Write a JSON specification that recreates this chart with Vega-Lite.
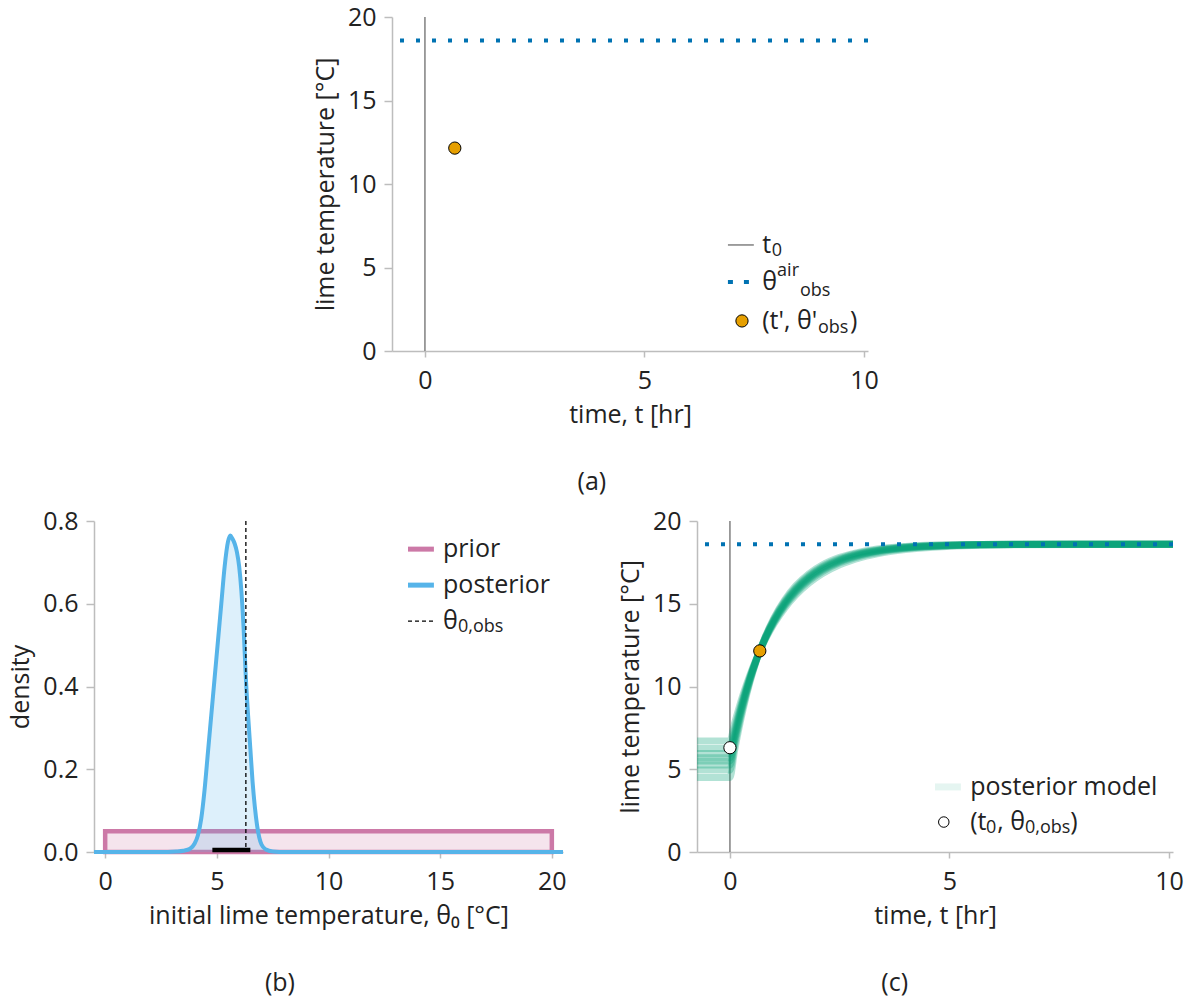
{
"$schema": "https://vega.github.io/schema/vega-lite/v6.json",
"autosize": {"type": "pad"},
"padding": {"left": 8, "top": 5, "right": 5, "bottom": 5},
"background": "white",
"config": {
  "font": "Open Sans",
  "view": {"stroke": null},
  "axis": {"grid": false, "domainColor": "#bdbdbd", "domainWidth": 1.5, "tickColor": "#bdbdbd", "tickWidth": 1.5, "labelFont": "Open Sans", "labelFontSize": 25, "labelColor": "#222222", "labelFlush": false, "titleFont": "Open Sans", "titleFontSize": 25, "titleFontWeight": "normal", "titleColor": "#222222"},
  "axisX": {"tickSize": 6, "labelPadding": 11, "titlePadding": 9},
  "axisY": {"tickSize": 8, "labelPadding": 8, "titlePadding": 9},
  "title": {"font": "Open Sans", "fontSize": 25, "fontWeight": "normal", "color": "#222222", "orient": "bottom", "anchor": "middle", "frame": "bounds", "offset": 43, "dx": -8},
  "text": {"font": "Open Sans", "fontSize": 25, "color": "#222222", "align": "left", "baseline": "middle"}
},
"datasets": {
  "t0": [{"t": 0}],
  "air": [{"theta": 18.6}],
  "obs": [{"t": 0.68, "theta": 12.15}],
  "init": [{"t": 0, "theta": 6.3}],
  "prior": [{"lo": 0, "hi": 20, "density": 0.05}],
  "interval": [{"lo": 4.8, "hi": 6.5}],
  "posterior": [
    {"x": -0.5, "density": 0}, {"x": 2.8, "density": 0}, {"x": 3.2, "density": 0.001}, {"x": 3.5, "density": 0.003},
    {"x": 3.8, "density": 0.008}, {"x": 4.0, "density": 0.02}, {"x": 4.15, "density": 0.04}, {"x": 4.3, "density": 0.08},
    {"x": 4.45, "density": 0.15}, {"x": 4.6, "density": 0.24}, {"x": 4.75, "density": 0.33}, {"x": 4.9, "density": 0.42},
    {"x": 5.05, "density": 0.51}, {"x": 5.2, "density": 0.6}, {"x": 5.35, "density": 0.69}, {"x": 5.5, "density": 0.75},
    {"x": 5.6, "density": 0.765}, {"x": 5.7, "density": 0.757}, {"x": 5.8, "density": 0.745}, {"x": 5.9, "density": 0.725},
    {"x": 6.0, "density": 0.69}, {"x": 6.1, "density": 0.63}, {"x": 6.2, "density": 0.54}, {"x": 6.3, "density": 0.42},
    {"x": 6.4, "density": 0.33}, {"x": 6.5, "density": 0.25}, {"x": 6.6, "density": 0.17}, {"x": 6.7, "density": 0.11},
    {"x": 6.8, "density": 0.065}, {"x": 6.9, "density": 0.035}, {"x": 7.0, "density": 0.018}, {"x": 7.2, "density": 0.006},
    {"x": 7.5, "density": 0.001}, {"x": 7.8, "density": 0}, {"x": 20.5, "density": 0}
  ],
  "curves": [
    {"s":1,"t":-0.75,"y":4.5},{"s":1,"t":0,"y":4.5},{"s":1,"t":0.1,"y":6.03},{"s":1,"t":0.2,"y":7.4},{"s":1,"t":0.3,"y":8.61},{"s":1,"t":0.45,"y":10.2},{"s":1,"t":0.6,"y":11.53},{"s":1,"t":0.8,"y":12.98},{"s":1,"t":1.0,"y":14.14},{"s":1,"t":1.25,"y":15.25},{"s":1,"t":1.5,"y":16.09},{"s":1,"t":1.8,"y":16.82},{"s":1,"t":2.1,"y":17.34},{"s":1,"t":2.5,"y":17.8},{"s":1,"t":3.0,"y":18.15},{"s":1,"t":3.5,"y":18.35},{"s":1,"t":4.0,"y":18.46},{"s":1,"t":5.0,"y":18.56},{"s":1,"t":6.5,"y":18.59},{"s":1,"t":10.09,"y":18.6},
    {"s":2,"t":-0.75,"y":4.95},{"s":2,"t":0,"y":4.95},{"s":2,"t":0.1,"y":6.38},{"s":2,"t":0.2,"y":7.65},{"s":2,"t":0.3,"y":8.79},{"s":2,"t":0.45,"y":10.29},{"s":2,"t":0.6,"y":11.56},{"s":2,"t":0.8,"y":12.95},{"s":2,"t":1.0,"y":14.07},{"s":2,"t":1.25,"y":15.16},{"s":2,"t":1.5,"y":15.99},{"s":2,"t":1.8,"y":16.72},{"s":2,"t":2.1,"y":17.25},{"s":2,"t":2.5,"y":17.73},{"s":2,"t":3.0,"y":18.1},{"s":2,"t":3.5,"y":18.31},{"s":2,"t":4.0,"y":18.43},{"s":2,"t":5.0,"y":18.55},{"s":2,"t":6.5,"y":18.59},{"s":2,"t":10.09,"y":18.6},
    {"s":3,"t":-0.75,"y":5.25},{"s":3,"t":0,"y":5.25},{"s":3,"t":0.1,"y":6.61},{"s":3,"t":0.2,"y":7.82},{"s":3,"t":0.3,"y":8.92},{"s":3,"t":0.45,"y":10.35},{"s":3,"t":0.6,"y":11.57},{"s":3,"t":0.8,"y":12.93},{"s":3,"t":1.0,"y":14.02},{"s":3,"t":1.25,"y":15.09},{"s":3,"t":1.5,"y":15.92},{"s":3,"t":1.8,"y":16.65},{"s":3,"t":2.1,"y":17.19},{"s":3,"t":2.5,"y":17.68},{"s":3,"t":3.0,"y":18.06},{"s":3,"t":3.5,"y":18.28},{"s":3,"t":4.0,"y":18.42},{"s":3,"t":5.0,"y":18.54},{"s":3,"t":6.5,"y":18.59},{"s":3,"t":10.09,"y":18.6},
    {"s":4,"t":-0.75,"y":5.5},{"s":4,"t":0,"y":5.5},{"s":4,"t":0.1,"y":6.8},{"s":4,"t":0.2,"y":7.96},{"s":4,"t":0.3,"y":9.02},{"s":4,"t":0.45,"y":10.4},{"s":4,"t":0.6,"y":11.59},{"s":4,"t":0.8,"y":12.91},{"s":4,"t":1.0,"y":13.98},{"s":4,"t":1.25,"y":15.04},{"s":4,"t":1.5,"y":15.86},{"s":4,"t":1.8,"y":16.59},{"s":4,"t":2.1,"y":17.13},{"s":4,"t":2.5,"y":17.63},{"s":4,"t":3.0,"y":18.02},{"s":4,"t":3.5,"y":18.26},{"s":4,"t":4.0,"y":18.4},{"s":4,"t":5.0,"y":18.53},{"s":4,"t":6.5,"y":18.59},{"s":4,"t":10.09,"y":18.6},
    {"s":5,"t":-0.75,"y":5.7},{"s":5,"t":0,"y":5.7},{"s":5,"t":0.1,"y":6.95},{"s":5,"t":0.2,"y":8.08},{"s":5,"t":0.3,"y":9.1},{"s":5,"t":0.45,"y":10.45},{"s":5,"t":0.6,"y":11.6},{"s":5,"t":0.8,"y":12.89},{"s":5,"t":1.0,"y":13.94},{"s":5,"t":1.25,"y":14.99},{"s":5,"t":1.5,"y":15.8},{"s":5,"t":1.8,"y":16.54},{"s":5,"t":2.1,"y":17.08},{"s":5,"t":2.5,"y":17.59},{"s":5,"t":3.0,"y":17.99},{"s":5,"t":3.5,"y":18.24},{"s":5,"t":4.0,"y":18.38},{"s":5,"t":5.0,"y":18.52},{"s":5,"t":6.5,"y":18.58},{"s":5,"t":10.09,"y":18.6},
    {"s":6,"t":-0.75,"y":5.95},{"s":6,"t":0,"y":5.95},{"s":6,"t":0.1,"y":7.14},{"s":6,"t":0.2,"y":8.22},{"s":6,"t":0.3,"y":9.2},{"s":6,"t":0.45,"y":10.5},{"s":6,"t":0.6,"y":11.62},{"s":6,"t":0.8,"y":12.87},{"s":6,"t":1.0,"y":13.9},{"s":6,"t":1.25,"y":14.93},{"s":6,"t":1.5,"y":15.74},{"s":6,"t":1.8,"y":16.47},{"s":6,"t":2.1,"y":17.02},{"s":6,"t":2.5,"y":17.54},{"s":6,"t":3.0,"y":17.95},{"s":6,"t":3.5,"y":18.21},{"s":6,"t":4.0,"y":18.36},{"s":6,"t":5.0,"y":18.51},{"s":6,"t":6.5,"y":18.58},{"s":6,"t":10.09,"y":18.6},
    {"s":7,"t":-0.75,"y":6.25},{"s":7,"t":0,"y":6.25},{"s":7,"t":0.1,"y":7.38},{"s":7,"t":0.2,"y":8.4},{"s":7,"t":0.3,"y":9.33},{"s":7,"t":0.45,"y":10.57},{"s":7,"t":0.6,"y":11.64},{"s":7,"t":0.8,"y":12.85},{"s":7,"t":1.0,"y":13.85},{"s":7,"t":1.25,"y":14.86},{"s":7,"t":1.5,"y":15.65},{"s":7,"t":1.8,"y":16.39},{"s":7,"t":2.1,"y":16.94},{"s":7,"t":2.5,"y":17.47},{"s":7,"t":3.0,"y":17.9},{"s":7,"t":3.5,"y":18.16},{"s":7,"t":4.0,"y":18.33},{"s":7,"t":5.0,"y":18.5},{"s":7,"t":6.5,"y":18.58},{"s":7,"t":10.09,"y":18.6},
    {"s":8,"t":-0.75,"y":6.7},{"s":8,"t":0,"y":6.7},{"s":8,"t":0.1,"y":7.73},{"s":8,"t":0.2,"y":8.66},{"s":8,"t":0.3,"y":9.52},{"s":8,"t":0.45,"y":10.67},{"s":8,"t":0.6,"y":11.67},{"s":8,"t":0.8,"y":12.81},{"s":8,"t":1.0,"y":13.77},{"s":8,"t":1.25,"y":14.74},{"s":8,"t":1.5,"y":15.52},{"s":8,"t":1.8,"y":16.25},{"s":8,"t":2.1,"y":16.81},{"s":8,"t":2.5,"y":17.35},{"s":8,"t":3.0,"y":17.8},{"s":8,"t":3.5,"y":18.09},{"s":8,"t":4.0,"y":18.28},{"s":8,"t":5.0,"y":18.47},{"s":8,"t":6.5,"y":18.57},{"s":8,"t":10.09,"y":18.6}
  ]
},
"spacing": 14,
"vconcat": [
  {
    "hconcat": [
      {"width": 298, "height": 334, "data": {"values": []}, "mark": "point"},
      {
        "width": 476, "height": 334,
        "title": {"text": "(a)", "dx": -4},
        "layer": [
          {"data": {"name": "t0"}, "mark": {"type": "rule", "color": "#808080", "strokeWidth": 1.5},
           "encoding": {"x": {"field": "t", "type": "quantitative", "scale": {"domain": [-0.75, 10.09], "nice": false, "zero": false}}}},
          {"data": {"name": "air"}, "mark": {"type": "rule", "color": "#0072B2", "strokeWidth": 4, "strokeDash": [4, 12]},
           "encoding": {"y": {"field": "theta", "type": "quantitative", "scale": {"domain": [0, 20], "nice": false}}}},
          {"data": {"name": "obs"}, "mark": {"type": "circle", "fill": "#E69F00", "stroke": "#000000", "strokeWidth": 1, "size": 150, "opacity": 1},
           "encoding": {
             "x": {"field": "t", "type": "quantitative", "scale": {"domain": [-0.75, 10.09], "nice": false, "zero": false}, "axis": {"values": [0, 5, 10], "title": "time, t [hr]"}},
             "y": {"field": "theta", "type": "quantitative", "scale": {"domain": [0, 20], "nice": false}, "axis": {"values": [0, 5, 10, 15, 20], "title": "lime temperature [°C]"}}}},
          {"data": {"values": [{}]}, "mark": {"type": "rule", "color": "#808080", "strokeWidth": 1.5},
           "encoding": {"x": {"datum": 6.9, "type": "quantitative"}, "x2": {"datum": 7.49}, "y": {"datum": 6.35, "type": "quantitative"}}},
          {"data": {"values": [{}]}, "mark": {"type": "text", "text": "t"},
           "encoding": {"x": {"datum": 7.68, "type": "quantitative"}, "y": {"datum": 6.35, "type": "quantitative"}}},
          {"data": {"values": [{}]}, "mark": {"type": "text", "text": "0", "fontSize": 18},
           "encoding": {"x": {"datum": 7.9, "type": "quantitative"}, "y": {"datum": 5.99, "type": "quantitative"}}},
          {"data": {"values": [{}]}, "mark": {"type": "rule", "color": "#0072B2", "strokeWidth": 4, "strokeDash": [5, 11]},
           "encoding": {"x": {"datum": 6.9, "type": "quantitative"}, "x2": {"datum": 7.49}, "y": {"datum": 4.13, "type": "quantitative"}}},
          {"data": {"values": [{}]}, "mark": {"type": "text", "text": "θ"},
           "encoding": {"x": {"datum": 7.68, "type": "quantitative"}, "y": {"datum": 4.13, "type": "quantitative"}}},
          {"data": {"values": [{}]}, "mark": {"type": "text", "text": "air", "fontSize": 18},
           "encoding": {"x": {"datum": 8.02, "type": "quantitative"}, "y": {"datum": 4.79, "type": "quantitative"}}},
          {"data": {"values": [{}]}, "mark": {"type": "text", "text": "obs", "fontSize": 18},
           "encoding": {"x": {"datum": 8.54, "type": "quantitative"}, "y": {"datum": 3.59, "type": "quantitative"}}},
          {"data": {"values": [{}]}, "mark": {"type": "circle", "fill": "#E69F00", "stroke": "#000000", "strokeWidth": 1, "size": 150, "opacity": 1},
           "encoding": {"x": {"datum": 7.22, "type": "quantitative"}, "y": {"datum": 1.8, "type": "quantitative"}}},
          {"data": {"values": [{}]}, "mark": {"type": "text", "text": "(t', θ'"},
           "encoding": {"x": {"datum": 7.68, "type": "quantitative"}, "y": {"datum": 1.8, "type": "quantitative"}}},
          {"data": {"values": [{}]}, "mark": {"type": "text", "text": "obs", "fontSize": 18},
           "encoding": {"x": {"datum": 8.95, "type": "quantitative"}, "y": {"datum": 1.38, "type": "quantitative"}}},
          {"data": {"values": [{}]}, "mark": {"type": "text", "text": ")"},
           "encoding": {"x": {"datum": 9.68, "type": "quantitative"}, "y": {"datum": 1.8, "type": "quantitative"}}}
        ]
      }
    ],
    "spacing": 0,
    "bounds": "flush"
  },
  {
    "hconcat": [
      {
        "width": 469, "height": 331,
        "title": {"text": "(b)", "dx": -10},
        "layer": [
          {"data": {"name": "prior"}, "mark": {"type": "rect", "fill": "#CC79A7", "fillOpacity": 0.2, "stroke": "#CC79A7", "strokeWidth": 4.5},
           "encoding": {
             "x": {"field": "lo", "type": "quantitative", "scale": {"domain": [-0.5, 20.5], "nice": false, "zero": false}, "axis": {"values": [0, 5, 10, 15, 20], "title": "initial lime temperature, θ₀ [°C]"}},
             "x2": {"field": "hi"},
             "y": {"field": "density", "type": "quantitative", "scale": {"domain": [0, 0.8], "nice": false}, "axis": {"values": [0, 0.2, 0.4, 0.6, 0.8], "format": ".1f", "title": "density"}},
             "y2": {"datum": 0}}},
          {"data": {"name": "posterior"}, "mark": {"type": "area", "color": "#56B4E9", "opacity": 0.2, "interpolate": "monotone"},
           "encoding": {"x": {"field": "x", "type": "quantitative"}, "y": {"field": "density", "type": "quantitative"}}},
          {"data": {"name": "posterior"}, "mark": {"type": "line", "color": "#56B4E9", "strokeWidth": 4, "interpolate": "monotone"},
           "encoding": {"x": {"field": "x", "type": "quantitative"}, "y": {"field": "density", "type": "quantitative"}}},
          {"data": {"name": "init"}, "mark": {"type": "rule", "color": "#000000", "strokeWidth": 1.3, "strokeDash": [4, 3]},
           "encoding": {"x": {"field": "theta", "type": "quantitative"}}},
          {"data": {"name": "interval"}, "mark": {"type": "rule", "color": "#000000", "strokeWidth": 4.5},
           "encoding": {"x": {"field": "lo", "type": "quantitative"}, "x2": {"field": "hi"}, "y": {"datum": 0.005, "type": "quantitative"}}},
          {"data": {"values": [{}]}, "mark": {"type": "rule", "color": "#CC79A7", "strokeWidth": 5},
           "encoding": {"x": {"datum": 13.56, "type": "quantitative"}, "x2": {"datum": 14.72}, "y": {"datum": 0.732, "type": "quantitative"}}},
          {"data": {"values": [{}]}, "mark": {"type": "text", "text": "prior"},
           "encoding": {"x": {"datum": 15.13, "type": "quantitative"}, "y": {"datum": 0.732, "type": "quantitative"}}},
          {"data": {"values": [{}]}, "mark": {"type": "rule", "color": "#56B4E9", "strokeWidth": 5},
           "encoding": {"x": {"datum": 13.56, "type": "quantitative"}, "x2": {"datum": 14.72}, "y": {"datum": 0.645, "type": "quantitative"}}},
          {"data": {"values": [{}]}, "mark": {"type": "text", "text": "posterior"},
           "encoding": {"x": {"datum": 15.13, "type": "quantitative"}, "y": {"datum": 0.645, "type": "quantitative"}}},
          {"data": {"values": [{}]}, "mark": {"type": "rule", "color": "#000000", "strokeWidth": 1.3, "strokeDash": [4, 3]},
           "encoding": {"x": {"datum": 13.56, "type": "quantitative"}, "x2": {"datum": 14.72}, "y": {"datum": 0.558, "type": "quantitative"}}},
          {"data": {"values": [{}]}, "mark": {"type": "text", "text": "θ"},
           "encoding": {"x": {"datum": 15.13, "type": "quantitative"}, "y": {"datum": 0.558, "type": "quantitative"}}},
          {"data": {"values": [{}]}, "mark": {"type": "text", "text": "0,obs", "fontSize": 18},
           "encoding": {"x": {"datum": 15.8, "type": "quantitative"}, "y": {"datum": 0.544, "type": "quantitative"}}}
        ]
      },
      {
        "width": 476, "height": 331,
        "title": {"text": "(c)"},
        "layer": [
          {"data": {"name": "t0"}, "mark": {"type": "rule", "color": "#808080", "strokeWidth": 1.5},
           "encoding": {"x": {"field": "t", "type": "quantitative", "scale": {"domain": [-0.75, 10.09], "nice": false, "zero": false}}}},
          {"data": {"name": "curves"}, "mark": {"type": "line", "color": "#009E73", "strokeWidth": 7, "opacity": 0.3, "interpolate": "monotone"},
           "encoding": {
             "x": {"field": "t", "type": "quantitative", "scale": {"domain": [-0.75, 10.09], "nice": false, "zero": false}, "axis": {"values": [0, 5, 10], "title": "time, t [hr]"}},
             "y": {"field": "y", "type": "quantitative", "scale": {"domain": [0, 20], "nice": false}, "axis": {"values": [0, 5, 10, 15, 20], "title": "lime temperature [°C]"}},
             "detail": {"field": "s", "type": "nominal"}}},
          {"data": {"name": "air"}, "mark": {"type": "rule", "color": "#0072B2", "strokeWidth": 4, "strokeDash": [4, 12]},
           "encoding": {"y": {"field": "theta", "type": "quantitative"}}},
          {"data": {"name": "init"}, "mark": {"type": "circle", "fill": "#ffffff", "stroke": "#000000", "strokeWidth": 1, "size": 150, "opacity": 1},
           "encoding": {"x": {"field": "t", "type": "quantitative"}, "y": {"field": "theta", "type": "quantitative"}}},
          {"data": {"name": "obs"}, "mark": {"type": "circle", "fill": "#E69F00", "stroke": "#000000", "strokeWidth": 1, "size": 150, "opacity": 1},
           "encoding": {"x": {"field": "t", "type": "quantitative"}, "y": {"field": "theta", "type": "quantitative"}}},
          {"data": {"values": [{}]}, "mark": {"type": "rule", "color": "#009E73", "strokeWidth": 7, "opacity": 0.1},
           "encoding": {"x": {"datum": 4.67, "type": "quantitative"}, "x2": {"datum": 5.26}, "y": {"datum": 3.93, "type": "quantitative"}}},
          {"data": {"values": [{}]}, "mark": {"type": "text", "text": "posterior model"},
           "encoding": {"x": {"datum": 5.47, "type": "quantitative"}, "y": {"datum": 3.93, "type": "quantitative"}}},
          {"data": {"values": [{}]}, "mark": {"type": "circle", "fill": "#ffffff", "stroke": "#000000", "strokeWidth": 1, "size": 110, "opacity": 1},
           "encoding": {"x": {"datum": 4.87, "type": "quantitative"}, "y": {"datum": 1.81, "type": "quantitative"}}},
          {"data": {"values": [{}]}, "mark": {"type": "text", "text": "(t"},
           "encoding": {"x": {"datum": 5.47, "type": "quantitative"}, "y": {"datum": 1.81, "type": "quantitative"}}},
          {"data": {"values": [{}]}, "mark": {"type": "text", "text": "0", "fontSize": 18},
           "encoding": {"x": {"datum": 5.83, "type": "quantitative"}, "y": {"datum": 1.45, "type": "quantitative"}}},
          {"data": {"values": [{}]}, "mark": {"type": "text", "text": ", θ"},
           "encoding": {"x": {"datum": 6.09, "type": "quantitative"}, "y": {"datum": 1.81, "type": "quantitative"}}},
          {"data": {"values": [{}]}, "mark": {"type": "text", "text": "0,obs", "fontSize": 18},
           "encoding": {"x": {"datum": 6.72, "type": "quantitative"}, "y": {"datum": 1.45, "type": "quantitative"}}},
          {"data": {"values": [{}]}, "mark": {"type": "text", "text": ")"},
           "encoding": {"x": {"datum": 7.75, "type": "quantitative"}, "y": {"datum": 1.81, "type": "quantitative"}}}
        ]
      }
    ],
    "spacing": 134,
    "bounds": "flush"
  }
]
}
